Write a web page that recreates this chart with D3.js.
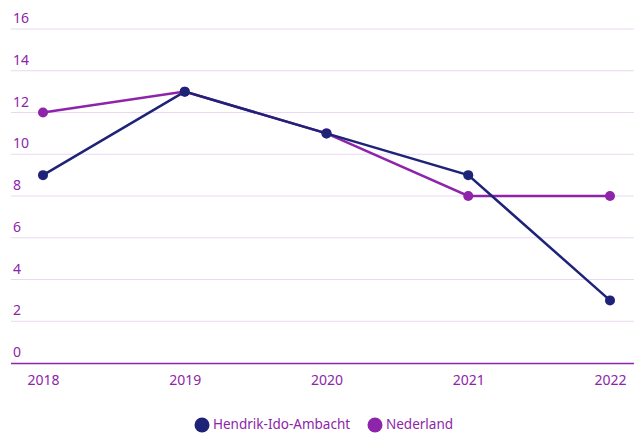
<!DOCTYPE html>
<html><head><meta charset="utf-8">
<script src="https://cdn.jsdelivr.net/npm/d3@7"></script>
<style>body{margin:0;background:#fff}svg{display:block;font-family:"Noto Sans",sans-serif}</style>
</head><body><svg id="c" width="634" height="433"></svg>
<script>
const years = ["2018","2019","2020","2021","2022"];
const hendrik = [9,13,11,9,3];
const nederland = [12,13,11,8,8];
const yTicks = [0,2,4,6,8,10,12,14,16];
const seriesNames = ["Hendrik-Ido-Ambacht","Nederland"];
const colors = ["#1e2378","#8e24aa"];
const textColor = "#8e24aa";

const svg = d3.select("#c");
const x = d3.scalePoint().domain(years).range([43,610]);
const y = d3.scaleLinear().domain([0,16]).range([363,29]);

const grid = svg.append("g");
yTicks.forEach(t=>{
  if(t>0) grid.append("line").attr("x1",11).attr("x2",634).attr("y1",y(t)).attr("y2",y(t))
    .attr("stroke","#ead8f0").attr("stroke-width",1);
  grid.append("text").attr("x",13).attr("y",y(t)-6).text(t)
    .attr("fill",textColor).attr("font-size",14);
});
svg.append("line").attr("x1",11).attr("x2",634).attr("y1",y(0)+0.5).attr("y2",y(0)+0.5)
  .attr("stroke","#8e24aa").attr("stroke-width",1.5);

const xAxis = d3.axisBottom(x).tickSize(0).tickPadding(12);
const xg = svg.append("g").attr("transform",`translate(0,${y(0)})`).call(xAxis);
xg.select(".domain").remove();
xg.selectAll("text").attr("fill",textColor).attr("font-size",14).attr("font-family","Noto Sans, sans-serif");

const line = d3.line().x((d,i)=>x(years[i])).y(d=>y(d));
[nederland, hendrik].forEach((s,k)=>{
  const c = k===0?colors[1]:colors[0];
  svg.append("path").datum(s).attr("d",line).attr("fill","none").attr("stroke",c).attr("stroke-width",2.5);
  svg.selectAll(null).data(s).enter().append("circle")
    .attr("cx",(d,i)=>x(years[i])).attr("cy",d=>y(d)).attr("r",5).attr("fill",c);
});

const lg = svg.append("g");
const lx = [202,375];
seriesNames.forEach((n,i)=>{
  lg.append("circle").attr("cx",lx[i]).attr("cy",425).attr("r",7.5).attr("fill",colors[i]);
  lg.append("text").attr("x",lx[i]+11).attr("y",429).text(n).attr("fill",textColor).attr("font-size",13.5);
});
</script></body></html>
